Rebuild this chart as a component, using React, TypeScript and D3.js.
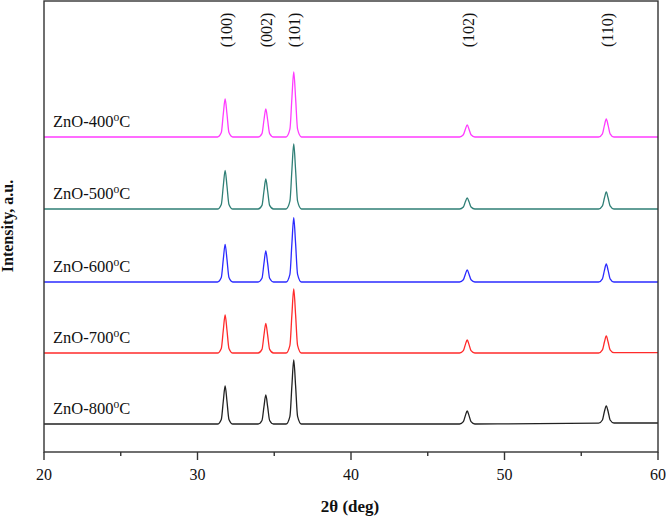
import React from "react";
import * as d3 from "d3";

// 2θ sampling positions (deg), shared by all patterns
const twoTheta = [
  20, 31.3, 31.55, 31.68, 31.8, 31.92, 32.05, 32.3,
  33.95, 34.2, 34.33, 34.45, 34.57, 34.7, 34.95,
  35.77, 36.02, 36.15, 36.27, 36.39, 36.52, 36.77,
  47.07, 47.32, 47.45, 47.57, 47.69, 47.82, 48.07,
  56.13, 56.38, 56.51, 56.63, 56.75, 56.88, 57.13, 60,
];

// intensities above each pattern's own baseline (a.u.)
const int400 = [
  0, 0, 4.5, 23, 38, 23, 4.5, 0,
  0, 3.4, 17, 28, 17, 3.4, 0,
  0, 7.8, 39, 65, 39, 7.8, 0,
  0, 2.2, 7.8, 12, 7.8, 2.2, 0,
  0, 3.2, 11.7, 18, 11.7, 3.2, 0, 0,
];
const int500 = [
  0, 0, 4.6, 23, 38.5, 23, 4.6, 0,
  0, 3.6, 18, 30, 18, 3.6, 0,
  0, 7.8, 39, 65, 39, 7.8, 0,
  0, 2, 7.2, 11, 7.2, 2, 0,
  0, 3.1, 11, 17, 11, 3.1, 0, 0,
];
const int600 = [
  0, 0, 4.5, 22.6, 37.7, 22.6, 4.5, 0,
  0, 3.7, 18.6, 31, 18.6, 3.7, 0,
  0, 7.7, 38.6, 64.3, 38.6, 7.7, 0,
  0, 2.2, 7.8, 12, 7.8, 2.2, 0,
  0, 3.2, 11.7, 18, 11.7, 3.2, 0, 0,
];
const int700 = [
  0, 0, 4.6, 22.8, 38, 22.8, 4.6, 0,
  0, 3.6, 17.8, 29.7, 17.8, 3.6, 0,
  0, 7.7, 38.4, 64, 38.4, 7.7, 0,
  0, 2.3, 8.4, 13, 8.4, 2.3, 0,
  0, 3.1, 11, 17, 11, 3.1, 0.3, 0.3,
];
const int800 = [
  0, 0, 4.6, 22.8, 38, 22.8, 4.6, 0,
  0, 3.5, 17.4, 29, 17.4, 3.5, 0,
  0, 7.7, 38.4, 64, 38.4, 7.7, 0,
  0, 2.3, 8.4, 13, 8.4, 2.3, 0,
  0.8, 4, 12.5, 18, 12.5, 4, 1, 1,
];

const seriesNames = ["ZnO-400", "ZnO-500", "ZnO-600", "ZnO-700", "ZnO-800"];
const seriesIntensity = [int400, int500, int600, int700, int800];
const seriesOffsets = [315, 243, 170, 99, 28];
const seriesColors = ["#ff3cff", "#2f7f76", "#2b2bff", "#ff2b2b", "#222222"];

const peakPositions = [31.8, 34.45, 36.27, 47.57, 56.63];
const peakLabels = ["(100)", "(002)", "(101)", "(102)", "(110)"];

const xMajorTicks = [20, 30, 40, 50, 60];
const xMinorTicks = [25, 35, 45, 55];

const W = 666;
const H = 519;
const m = { left: 44, top: 1, right: 658, bottom: 452 };

export default function App() {
  const x = d3.scaleLinear().domain([20, 60]).range([m.left, m.right]);
  const y = d3.scaleLinear().domain([0, 450]).range([m.bottom, m.bottom - 450]);
  const axisColor = "#333";
  const font = "'Liberation Serif', 'Times New Roman', serif";

  return (
    <svg
      width={W}
      height={H}
      style={{ position: "absolute", left: 0, top: 0, background: "#fff" }}
      fontFamily={font}
    >
      {seriesIntensity.map((vals, i) => {
        const pts: [number, number][] = twoTheta.map((t, k) => [t, vals[k] + seriesOffsets[i]]);
        const line = d3
          .line<[number, number]>()
          .x((d) => x(d[0]))
          .y((d) => y(d[1]))
          .curve(d3.curveMonotoneX);
        return (
          <path
            key={"s" + i}
            d={line(pts) || ""}
            fill="none"
            stroke={seriesColors[i]}
            strokeWidth={1.3}
            strokeLinejoin="round"
          />
        );
      })}

      {seriesNames.map((name, i) => (
        <text
          key={"n" + i}
          x={53}
          y={y(seriesOffsets[i]) - 10}
          fontSize={16.5}
          fill="#111"
        >
          {name}
          <tspan dy={-6} fontSize={11.5}>o</tspan>
          <tspan dy={6}>C</tspan>
        </text>
      ))}

      {peakPositions.map((p, i) => (
        <text
          key={"p" + i}
          transform={`translate(${x(p) + 1},30) rotate(-90)`}
          textAnchor="middle"
          dominantBaseline="central"
          fontSize={16}
          fill="#111"
        >
          {peakLabels[i]}
        </text>
      ))}

      {/* frame */}
      <rect
        x={m.left}
        y={m.top}
        width={m.right - m.left}
        height={m.bottom - m.top}
        fill="none"
        stroke={axisColor}
        strokeWidth={1.4}
      />

      {xMajorTicks.map((t) => (
        <g key={"t" + t}>
          <line x1={x(t)} x2={x(t)} y1={m.bottom} y2={m.bottom + 8} stroke={axisColor} strokeWidth={1.4} />
          <text x={x(t)} y={480} textAnchor="middle" fontSize={16} fill="#111">
            {t}
          </text>
        </g>
      ))}
      {xMinorTicks.map((t) => (
        <line key={"m" + t} x1={x(t)} x2={x(t)} y1={m.bottom} y2={m.bottom + 4} stroke={axisColor} strokeWidth={1.4} />
      ))}

      <text x={350} y={512} textAnchor="middle" fontSize={17} fontWeight="bold" fill="#111">
        2θ (deg)
      </text>
      <text
        transform={`translate(13,226) rotate(-90)`}
        textAnchor="middle"
        fontSize={16}
        fontWeight="bold"
        fill="#111"
      >
        Intensity, a.u.
      </text>
    </svg>
  );
}
